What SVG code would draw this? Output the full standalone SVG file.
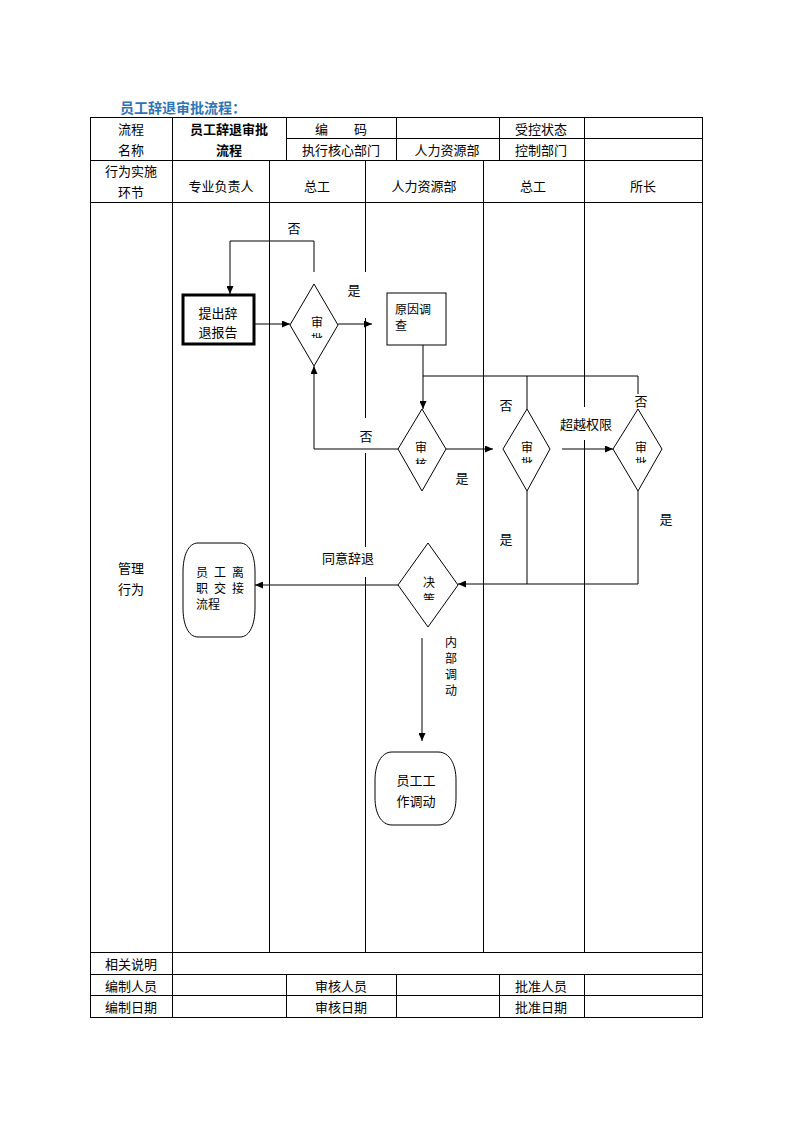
<svg xmlns="http://www.w3.org/2000/svg" width="794" height="1123" viewBox="0 0 794 1123">
<style>
text{font-family:"Noto Sans CJK SC","Noto Sans",sans-serif;font-size:13px;fill:#000;text-anchor:middle;dominant-baseline:central}
.b{font-weight:bold}
.title{font-size:14px;font-weight:bold;fill:#2E75B6;text-anchor:start}
.grid{stroke:#000;stroke-width:1;fill:none;shape-rendering:crispEdges}
.shape{stroke:#000;stroke-width:1;fill:#fff}
.conn{stroke:#000;stroke-width:1;fill:none}
.lbl{fill:#fff;stroke:none}
.sm{font-size:12px}
.l{text-anchor:start}
</style>
<defs>
<marker id="ah" markerWidth="8" markerHeight="7" refX="8" refY="3.5" orient="auto" markerUnits="userSpaceOnUse">
<path d="M0,0 L8,3.5 L0,7 Z" fill="#000"/>
</marker>
<clipPath id="c1"><rect x="300" y="300" width="40" height="38"/></clipPath>
<clipPath id="c2"><rect x="400" y="425" width="40" height="39"/></clipPath>
<clipPath id="c3"><rect x="505" y="425" width="40" height="38"/></clipPath>
<clipPath id="c4"><rect x="619" y="425" width="40" height="38"/></clipPath>
<clipPath id="c5"><rect x="405" y="560" width="40" height="40"/></clipPath>
</defs>

<text class="title" x="120" y="107">员工辞退审批流程：</text>

<g id="table" class="grid">
<rect x="90" y="117" width="612" height="900"/>
<line x1="286" y1="138" x2="702" y2="138"/>
<line x1="90" y1="160" x2="702" y2="160"/>
<line x1="90" y1="202" x2="702" y2="202"/>
<line x1="90" y1="952" x2="702" y2="952"/>
<line x1="90" y1="974" x2="702" y2="974"/>
<line x1="90" y1="995" x2="702" y2="995"/>
<line x1="172" y1="117" x2="172" y2="1017"/>
<line x1="286" y1="117" x2="286" y2="160"/>
<line x1="396" y1="117" x2="396" y2="160"/>
<line x1="499" y1="117" x2="499" y2="160"/>
<line x1="584" y1="117" x2="584" y2="160"/>
<line x1="269" y1="160" x2="269" y2="952"/>
<line x1="365" y1="160" x2="365" y2="952"/>
<line x1="483" y1="160" x2="483" y2="952"/>
<line x1="584" y1="160" x2="584" y2="952"/>
<line x1="286" y1="974" x2="286" y2="1017"/>
<line x1="396" y1="974" x2="396" y2="1017"/>
<line x1="499" y1="974" x2="499" y2="1017"/>
<line x1="584" y1="974" x2="584" y2="1017"/>
</g>

<g id="table-text">
<text x="131" y="128">流程</text>
<text x="131" y="149">名称</text>
<text class="b" x="229" y="128">员工辞退审批</text>
<text class="b" x="229" y="149">流程</text>
<text x="341" y="128">编　　码</text>
<text x="341" y="149">执行核心部门</text>
<text x="447" y="149">人力资源部</text>
<text x="541" y="128">受控状态</text>
<text x="541" y="149">控制部门</text>
<text x="131" y="170">行为实施</text>
<text x="131" y="191">环节</text>
<text x="221" y="185">专业负责人</text>
<text x="317" y="185">总工</text>
<text x="424" y="185">人力资源部</text>
<text x="533" y="185">总工</text>
<text x="643" y="185">所长</text>
<text x="131" y="567">管理</text>
<text x="131" y="588">行为</text>
<text x="131" y="963">相关说明</text>
<text x="131" y="985">编制人员</text>
<text x="341" y="985">审核人员</text>
<text x="541" y="985">批准人员</text>
<text x="131" y="1006">编制日期</text>
<text x="341" y="1006">审核日期</text>
<text x="541" y="1006">批准日期</text>
</g>

<g id="label-backgrounds">
<rect class="lbl" x="340" y="272" width="40" height="46"/>
<rect class="lbl" x="355" y="418" width="24" height="35"/>
<rect class="lbl" x="557" y="407" width="54" height="33"/>
<rect class="lbl" x="320" y="547" width="58" height="30"/>
</g>

<g id="connectors" class="conn">
<path d="M255,324 H290" marker-end="url(#ah)"/>
<path d="M314,272 V241 H230 V294" marker-end="url(#ah)"/>
<path d="M338,324 H372" marker-end="url(#ah)"/>
<path d="M423,345 V376 H638"/>
<path d="M423,376 V409" marker-end="url(#ah)"/>
<path d="M527,376 V409"/>
<path d="M638,376 V394"/>
<path d="M446,449 H493" marker-end="url(#ah)"/>
<path d="M398,449 H314 V366" marker-end="url(#ah)"/>
<path d="M562,449 H613" marker-end="url(#ah)"/>
<path d="M527,491 V584"/>
<path d="M638,491 V584 H458" marker-end="url(#ah)"/>
<path d="M398,585 H255" marker-end="url(#ah)"/>
<path d="M422,638 V741" marker-end="url(#ah)"/>
</g>

<g id="node-submit">
<rect x="183" y="295" width="71" height="49" fill="#fff" stroke="#000" stroke-width="3"/>
<text x="218" y="312">提出辞</text>
<text x="218" y="331">退报告</text>
</g>

<g id="node-review1">
<polygon class="shape" points="314,284 338,325 314,366 290,325"/>
<text class="sm" x="317" y="321">审</text>
<text class="sm" x="317" y="338" clip-path="url(#c1)">批</text>
</g>

<g id="node-investigate">
<rect class="shape" x="387" y="293" width="59" height="52"/>
<text class="sm l" x="395" y="308">原因调</text>
<text class="sm l" x="395" y="324">查</text>
</g>

<g id="node-review2">
<polygon class="shape" points="422,409 446,449 422,491 398,449"/>
<text class="sm" x="421" y="446">审</text>
<text class="sm" x="421" y="463" clip-path="url(#c2)">核</text>
</g>

<g id="node-review3">
<polygon class="shape" points="527,409 550,449 527,491 503,449"/>
<text class="sm" x="527" y="446">审</text>
<text class="sm" x="527" y="462" clip-path="url(#c3)">批</text>
</g>

<g id="node-review4">
<polygon class="shape" points="638,409 662,449 638,491 613,449"/>
<text class="sm" x="641" y="446">审</text>
<text class="sm" x="641" y="462" clip-path="url(#c4)">批</text>
</g>

<g id="node-decide">
<polygon class="shape" points="428,543 458,585 428,627 398,585"/>
<text class="sm" x="429" y="581">决</text>
<text class="sm" x="429" y="598" clip-path="url(#c5)">策</text>
</g>

<g id="node-handover">
<path class="shape" d="M198,543 L240,543 C250,543 255,556 255,572 L255,608 C255,624 250,637 240,637 L198,637 C188,637 183,624 183,608 L183,572 C183,556 188,543 198,543 Z"/>
<text class="sm" x="202" y="571">员</text>
<text class="sm" x="220" y="571">工</text>
<text class="sm" x="238" y="571">离</text>
<text class="sm" x="202" y="587">职</text>
<text class="sm" x="220" y="587">交</text>
<text class="sm" x="238" y="587">接</text>
<text class="sm l" x="196" y="603">流程</text>
</g>

<g id="node-transfer">
<path class="shape" d="M392,752 L438,752 C450,752 456,765 456,780 L456,798 C456,813 450,825 438,825 L392,825 C381,825 375,813 375,798 L375,780 C375,765 381,752 392,752 Z"/>
<text x="416" y="779">员工工</text>
<text x="416" y="800">作调动</text>
</g>

<g id="labels">
<text x="294" y="227">否</text>
<text x="354" y="289">是</text>
<text x="366" y="435">否</text>
<text x="462" y="477">是</text>
<text x="506" y="404">否</text>
<text x="586" y="423">超越权限</text>
<text x="641" y="400">否</text>
<text x="506" y="538">是</text>
<text x="666" y="518">是</text>
<text x="348" y="557">同意辞退</text>
<text class="sm" x="451" y="641">内</text>
<text class="sm" x="451" y="657">部</text>
<text class="sm" x="451" y="673">调</text>
<text class="sm" x="451" y="689">动</text>
</g>
</svg>
